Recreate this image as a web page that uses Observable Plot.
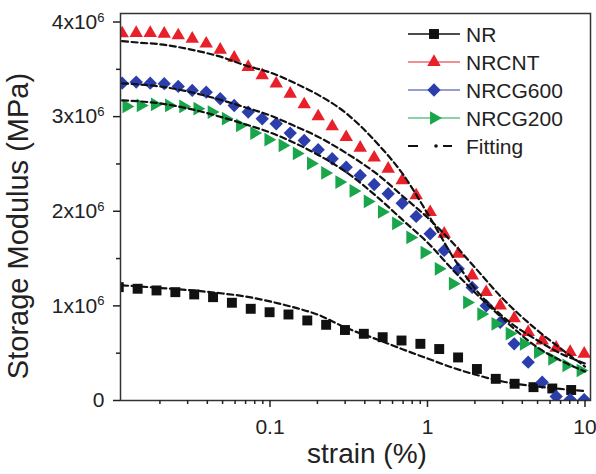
<!DOCTYPE html>
<html>
<head>
<meta charset="utf-8">
<script src="https://cdn.jsdelivr.net/npm/d3@7"></script>
<script src="https://cdn.jsdelivr.net/npm/@observablehq/plot@0.6"></script>
<style>
  html, body { margin: 0; padding: 0; background: #fff; }
  #chart { width: 596px; height: 474px; }
</style>
</head>
<body>
<div id="chart"></div>
<script>
// Strain sweep (%) and storage modulus (in units of 10^6) for each compound.
const strainNR = [0.01096, 0.01444, 0.01903, 0.02506, 0.03302, 0.04350, 0.05729, 0.07546, 0.09940, 0.1310,
  0.1725, 0.2272, 0.2993, 0.3943, 0.5193, 0.6841, 0.9013, 1.187, 1.564, 2.060, 2.714, 3.575, 4.710, 6.202, 8.173];
const modulusNR = [1.198, 1.181, 1.163, 1.145, 1.121, 1.092, 1.033, 0.969, 0.933, 0.909,
  0.846, 0.800, 0.745, 0.705, 0.669, 0.634, 0.599, 0.544, 0.455, 0.333, 0.229, 0.177, 0.141, 0.127, 0.111];

const strainCNT = [0.01152, 0.01414, 0.01736, 0.02130, 0.02614, 0.03208, 0.03936, 0.04830, 0.05926, 0.07272,
  0.08924, 0.1095, 0.1344, 0.1649, 0.2023, 0.2483, 0.3047, 0.3739, 0.4587, 0.5629, 0.6908, 0.8477, 1.040,
  1.277, 1.567, 1.922, 2.359, 2.895, 3.552, 4.359, 5.349, 6.564, 8.055, 9.886];
const modulusNRCNT = [3.879, 3.883, 3.883, 3.876, 3.858, 3.823, 3.771, 3.707, 3.622, 3.523, 3.436, 3.348,
  3.242, 3.129, 3.002, 2.896, 2.783, 2.671, 2.566, 2.449, 2.326, 2.167, 1.990, 1.762, 1.551, 1.321, 1.145,
  1.004, 0.867, 0.722, 0.634, 0.557, 0.511, 0.494];
const modulusNRCG600 = [3.354, 3.365, 3.354, 3.348, 3.319, 3.277, 3.259, 3.189, 3.118, 3.048, 2.978, 2.925,
  2.826, 2.748, 2.650, 2.555, 2.466, 2.378, 2.283, 2.185, 2.085, 1.945, 1.762, 1.586, 1.392, 1.195, 1.001,
  0.825, 0.599, 0.405, 0.193, 0.042, 0.010, 0.010];

const strainG200 = [0.01227, 0.01510, 0.01858, 0.02286, 0.02813, 0.03462, 0.04261, 0.05244, 0.06452, 0.07939,
  0.09770, 0.1202, 0.1479, 0.1820, 0.2240, 0.2757, 0.3392, 0.4174, 0.5137, 0.6321, 0.7778, 0.9572, 1.178,
  1.449, 1.784, 2.195, 2.701, 3.324, 4.090, 5.033, 6.194, 7.621, 9.378];
const modulusNRCG200 = [3.108, 3.118, 3.129, 3.118, 3.108, 3.084, 3.048, 2.978, 2.907, 2.826, 2.756, 2.696,
  2.611, 2.505, 2.405, 2.308, 2.215, 2.104, 1.993, 1.871, 1.723, 1.564, 1.392, 1.234, 1.036, 0.914, 0.811,
  0.708, 0.599, 0.511, 0.441, 0.370, 0.317];

// Fitted model curves, sampled at these strains.
const fitStrain = [0.0115, 0.015, 0.02, 0.03, 0.05, 0.07, 0.1, 0.15, 0.2, 0.3, 0.5, 0.7, 1, 1.5, 2, 3, 5, 7, 10];
const fitNR = [1.216, 1.205, 1.189, 1.168, 1.131, 1.099, 1.047, 0.973, 0.909, 0.772, 0.634, 0.539, 0.444,
  0.338, 0.275, 0.201, 0.148, 0.122, 0.100];
const fitNRCNT = [3.798, 3.781, 3.765, 3.716, 3.626, 3.541, 3.467, 3.340, 3.235, 3.044, 2.685, 2.389, 1.977,
  1.480, 1.184, 0.888, 0.634, 0.497, 0.391];
const fitNRCG600 = [3.351, 3.340, 3.319, 3.266, 3.171, 3.097, 3.013, 2.886, 2.791, 2.622, 2.368, 2.156, 1.934,
  1.638, 1.406, 1.078, 0.740, 0.550, 0.359];
const fitNRCG200 = [3.171, 3.161, 3.140, 3.087, 2.992, 2.918, 2.833, 2.706, 2.600, 2.421, 2.125, 1.903, 1.670,
  1.353, 1.142, 0.867, 0.560, 0.423, 0.307];

// Axis ticks
const xTickValues = [0.1, 1, 10];
const xTickLabels = ["0.1", "1", "10"];
const xMinorTicks = [0.02, 0.03, 0.04, 0.05, 0.06, 0.07, 0.08, 0.09, 0.2, 0.3, 0.4, 0.5, 0.6, 0.7, 0.8, 0.9,
  2, 3, 4, 5, 6, 7, 8, 9];
const yTickValues = [0, 1, 2, 3, 4];
const yTickLabels = ["0", "1x10^6", "2x10^6", "3x10^6", "4x10^6"];
const yMinorTicks = [0.5, 1.5, 2.5, 3.5];

const seriesNames = ["NR", "NRCNT", "NRCG600", "NRCG200"];
const seriesColors = ["#111111", "#e8202a", "#2b3eab", "#19a64b"];
const seriesSymbols = ["square", "triangle", "diamond2", "triangle"];
const seriesRotate = [0, 0, 0, 90];
const seriesRadius = [5.6, 5.0, 6.0, 5.1];
const seriesStrain = [strainNR, strainCNT, strainCNT, strainG200];
const seriesModulus = [modulusNR, modulusNRCNT, modulusNRCG600, modulusNRCG200];
const fitModulus = [fitNR, fitNRCNT, fitNRCG600, fitNRCG200];

const measured = seriesNames.map((name, k) =>
  seriesStrain[k].map((strain, i) => ({ name, strain, modulus: seriesModulus[k][i] })));
const fitted = seriesNames.flatMap((name, k) =>
  fitStrain.map((strain, i) => ({ name, strain, modulus: fitModulus[k][i] })));

const font = "'Liberation Sans', Arial, sans-serif";
const ink = "#222";

const chart = Plot.plot({
  width: 596,
  height: 474,
  marginLeft: 120,
  marginRight: 6,
  marginTop: 13,
  marginBottom: 74,
  style: { fontFamily: font, background: "#fff", color: ink, overflow: "visible" },
  x: { type: "log", domain: [0.01124, 10.84] },
  y: { domain: [0, 4.09] },
  marks: [
    ...measured.map((data, k) => Plot.dot(data, {
      x: "strain", y: "modulus",
      symbol: seriesSymbols[k], r: seriesRadius[k], rotate: seriesRotate[k],
      fill: seriesColors[k], stroke: "none", clip: true
    })),
    Plot.line(fitted, {
      x: "strain", y: "modulus", z: "name", curve: "monotone-x",
      stroke: "#111", strokeWidth: 2.2, strokeDasharray: "6,3.6", clip: true
    }),
    Plot.frame({ stroke: "#333", strokeWidth: 1.5 }),
    Plot.axisY(yTickValues, {
      tickSize: 7, tickPadding: 9, fontSize: 21, strokeWidth: 1.5, label: null,
      tickFormat: (d) => yTickLabels[yTickValues.indexOf(d)]
    }),
    Plot.axisY(yMinorTicks, { tickSize: 4, strokeWidth: 1.5, label: null, tickFormat: () => "" }),
    Plot.axisX(xTickValues, {
      tickSize: 7, tickPadding: 12, fontSize: 21, strokeWidth: 1.5, label: null,
      tickFormat: (d) => xTickLabels[xTickValues.indexOf(d)]
    }),
    Plot.axisX(xMinorTicks, { tickSize: 4, strokeWidth: 1.5, label: null, tickFormat: () => "" })
  ]
});

document.getElementById("chart").appendChild(chart);

const svg = d3.select(chart);

// Superscript exponents on the y tick labels ("4x10^6").
svg.selectAll("text").each(function () {
  const t = this.textContent;
  if (t.includes("^")) {
    const [base, exp] = t.split("^");
    const sel = d3.select(this);
    sel.text(base);
    sel.append("tspan").attr("dy", "-0.55em").attr("font-size", "0.62em").text(exp);
  }
});

// Axis titles
svg.append("text")
  .attr("x", 367).attr("y", 463)
  .attr("text-anchor", "middle")
  .attr("font-family", font).attr("font-size", 28).attr("fill", ink)
  .text("strain (%)");
svg.append("text")
  .attr("transform", "translate(28,226) rotate(-90)")
  .attr("text-anchor", "middle")
  .attr("font-family", font).attr("font-size", 29).attr("fill", ink)
  .text("Storage Modulus (MPa)");

// Legend
const d3Symbols = { square: d3.symbolSquare, triangle: d3.symbolTriangle, diamond2: d3.symbolDiamond2 };
const legend = svg.append("g")
  .attr("font-family", font).attr("font-size", 21).attr("fill", ink).attr("text-anchor", "start");
seriesNames.forEach((name, k) => {
  const y = 34 + 28 * k;
  legend.append("line").attr("x1", 408).attr("x2", 460).attr("y1", y).attr("y2", y)
    .attr("stroke", seriesColors[k]).attr("stroke-width", k === 0 ? 1.4 : 1.1);
  legend.append("path")
    .attr("d", d3.symbol(d3Symbols[seriesSymbols[k]], Math.PI * seriesRadius[k] ** 2)())
    .attr("transform", `translate(434,${y}) rotate(${seriesRotate[k]})`)
    .attr("fill", seriesColors[k]);
  legend.append("text").attr("x", 466).attr("y", y).attr("dy", "0.36em").text(name);
});
{
  const y = 34 + 28 * 4;
  legend.append("line").attr("x1", 408).attr("x2", 418).attr("y1", y).attr("y2", y)
    .attr("stroke", "#111").attr("stroke-width", 2);
  legend.append("circle").attr("cx", 436).attr("cy", y).attr("r", 1.8).attr("fill", "#111");
  legend.append("line").attr("x1", 443).attr("x2", 452).attr("y1", y).attr("y2", y)
    .attr("stroke", "#111").attr("stroke-width", 2);
  legend.append("text").attr("x", 466).attr("y", y).attr("dy", "0.36em").text("Fitting");
}
</script>
</body>
</html>
